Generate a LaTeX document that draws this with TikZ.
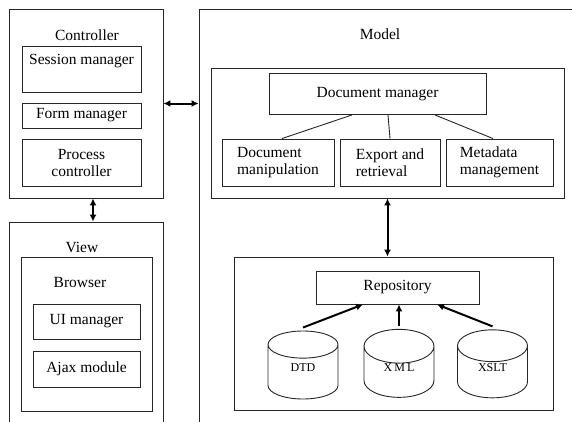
\documentclass[tikz,border=0pt]{standalone}
\usepackage{fontspec}
\setmainfont{Liberation Serif}
\usetikzlibrary{shapes.geometric, arrows.meta}

\begin{document}
\begin{tikzpicture}[x=1pt, y=-1pt,
  box/.style={draw=black!85, line width=0.9pt, rectangle, inner sep=0pt, align=center, font=\fontsize{15.5}{17}\selectfont},
  txt/.style={font=\fontsize{15.5}{17}\selectfont},
  db/.style={draw=black!85, line width=0.9pt, cylinder, shape border rotate=90, aspect=1.1, minimum width=70pt, minimum height=68pt, inner sep=0pt, text depth=9pt, font=\fontsize{12}{14}\selectfont},
  link/.style={draw=black!85, line width=0.9pt},
  twoway/.style={draw=black, line width=2pt, arrows={Latex[length=7pt,width=7pt]-Latex[length=7pt,width=7pt]}},
  feed/.style={draw=black, line width=2pt, arrows={-Latex[length=7pt,width=7pt]}}
]
\path[use as bounding box, clip] (0,0) rectangle (572,421);

% controller
\node[box, minimum width=154pt, minimum height=189pt] (ctrl) at (86,103.5) {};
\node[txt] (ctrlt) at (87,35) {Controller};
\node[box, minimum width=119pt, minimum height=46pt] (sess) at (81.5,69) {};
\node[txt] (sesst) at (81.5,61) {Session manager};
\node[box, minimum width=119pt, minimum height=25pt] (form) at (81.5,115.5) {Form manager};
\node[box, minimum width=119pt, minimum height=47pt] (proc) at (81.5,162.5) {Process\\controller};

% view
\node[box, minimum width=154pt, minimum height=230pt] (view) at (86,337) {};
\node[txt] (viewt) at (82,247) {View};
\node[box, minimum width=131pt, minimum height=154pt] (brow) at (86.5,334) {};
\node[txt] (browt) at (80,282) {Browser};
\node[box, minimum width=107pt, minimum height=35pt] (ui) at (86.5,321.5) {UI manager};
\node[box, minimum width=107pt, minimum height=36pt] (ajax) at (86.5,369) {Ajax module};

% model
\node[box, minimum width=420pt, minimum height=440pt] (model) at (409,229) {};
\node[txt] (modelt) at (380,34) {Model};
\node[box, minimum width=353pt, minimum height=130pt] (dmf) at (387.5,133) {};
\node[box, minimum width=217pt, minimum height=41pt] (docmgr) at (377.5,94) {Document manager};
\node[box, align=left, minimum width=112pt, minimum height=47pt] (manip) at (278,162.5) {Document\\manipulation};
\node[box, align=left, minimum width=100pt, minimum height=47pt] (expo) at (390,162.5) {Export and\\retrieval};
\node[box, align=left, minimum width=107pt, minimum height=47pt] (meta) at (499.5,162.5) {Metadata\\management};

% repository
\node[box, minimum width=319pt, minimum height=153pt] (repf) at (393.5,333.5) {};
\node[box, minimum width=163pt, minimum height=33pt] (repo) at (397.5,287.5) {Repository};
\node[db] (dtd) at (303,372) {DTD};
\node[db] (xml) at (399,372) {X\,M\,L};
\node[db] (xslt) at (492.5,372) {XSLT};

\draw[link] ([xshift=-25.5pt]docmgr.south) -- ([xshift=4pt]manip.north);
\draw[link] ([xshift=10.5pt]docmgr.south) -- (expo.north);
\draw[link] ([xshift=57.5pt]docmgr.south) -- ([xshift=-6.5pt]meta.north);

\draw[twoway] (ctrl.east) -- (ctrl.east -| model.west);
\draw[twoway] ([xshift=7pt]ctrl.south) -- ([xshift=7pt]ctrl.south |- view.north);
\draw[twoway] (dmf.south) -- (dmf.south |- repf.north);

\draw[feed] ([yshift=3pt]dtd.north) -- ([xshift=-34.5pt]repo.south);
\draw[feed] ([yshift=3pt]xml.north) -- (xml.north |- repo.south);
\draw[feed] ([yshift=3pt]xslt.north) -- ([xshift=39.5pt]repo.south);
\end{tikzpicture}
\end{document}
